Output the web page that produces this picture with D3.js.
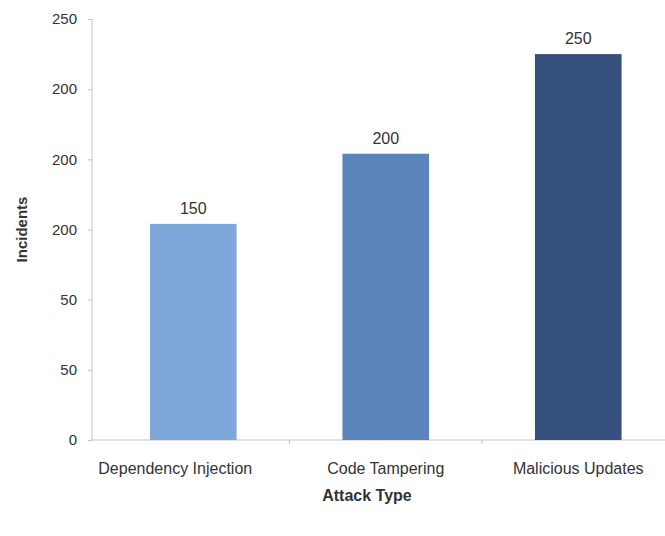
<!DOCTYPE html>
<html>
<head>
<meta charset="utf-8">
<script src="https://cdn.jsdelivr.net/npm/d3@7"></script>
<style>
  body { margin: 0; background: #fff; }
  text { font-family: "Liberation Sans", Arial, sans-serif; fill: #333; }
</style>
</head>
<body>
<svg id="chart" width="665" height="536"></svg>
<script>
// values (bar heights), printed labels kept as shown
let attackTypes = ["Dependency Injection", "Code Tampering", "Malicious Updates"]
let incidents = [154, 204, 275]
let barLabels = ["150", "200", "250"]
let tickValues = [0, 50, 100, 150, 200, 250, 300]
let tickLabels = ["0", "50", "50", "200", "200", "200", "250"]
let barColors = ["#7ca7d8", "#5b84ba", "#35507d"]

let svg = d3.select("#chart")
let margin = {top: 19, bottom: 96, left: 92}
let height = 536 - margin.bottom

let y = d3.scaleLinear().domain([0, 300]).range([height, margin.top])
let x = d3.scaleBand().domain(attackTypes).range([97, 674.5])
    .paddingInner(0.55).paddingOuter(0.275)

// y axis
let yAxis = svg.append("g")
    .attr("class", "yaxis")
    .attr("transform", `translate(${margin.left},0)`)
    .call(d3.axisLeft(y).tickValues(tickValues).tickSize(4).tickPadding(11)
        .tickFormat((d, i) => tickLabels[i]))
yAxis.select(".domain").attr("stroke", "#c4c4c4").attr("d", `M0,${y(300)}V${height}`)
yAxis.selectAll(".tick line").attr("stroke", "#c4c4c4")
yAxis.selectAll(".tick text").attr("font-size", 15).attr("fill", "#333")

// x axis line + ticks between categories
let xg = svg.append("g").attr("class", "xaxis")
xg.append("line")
    .attr("x1", margin.left).attr("x2", 665)
    .attr("y1", height).attr("y2", height)
    .attr("stroke", "#c4c4c4")
xg.selectAll(".sep")
    .data(attackTypes.slice(1))
    .join("line")
    .attr("class", "sep")
    .attr("x1", d => x(d) - x.step() * 0.275)
    .attr("x2", d => x(d) - x.step() * 0.275)
    .attr("y1", height).attr("y2", height + 4)
    .attr("stroke", "#c4c4c4")
// first label is pushed left a bit in the original so it doesn't hug the next one
xg.selectAll(".cat")
    .data(attackTypes)
    .join("text")
    .attr("class", "cat")
    .attr("x", (d, i) => x(d) + x.bandwidth() / 2 - (i === 0 ? 18 : 0))
    .attr("y", height + 34)
    .attr("text-anchor", "middle")
    .attr("font-size", 16)
    .text(d => d)

// bars
svg.selectAll(".bar")
    .data(attackTypes)
    .join("rect")
    .attr("class", "bar")
    .attr("x", d => x(d))
    .attr("width", x.bandwidth())
    .attr("y", (d, i) => y(incidents[i]))
    .attr("height", (d, i) => height - y(incidents[i]))
    .attr("fill", (d, i) => barColors[i])

svg.selectAll(".barlabel")
    .data(attackTypes)
    .join("text")
    .attr("class", "barlabel")
    .attr("x", d => x(d) + x.bandwidth() / 2)
    .attr("y", (d, i) => y(incidents[i]) - 10)
    .attr("text-anchor", "middle")
    .attr("font-size", 16)
    .text((d, i) => barLabels[i])

// axis titles
svg.append("text")
    .text("Attack Type")
    .attr("x", 367)
    .attr("y", height + 61)
    .attr("text-anchor", "middle")
    .attr("font-size", 16)
    .attr("font-weight", "bold")
    .attr("fill", "#222")

svg.append("text")
    .text("Incidents")
    .attr("transform", `translate(27,${(margin.top + height) / 2}) rotate(-90)`)
    .attr("text-anchor", "middle")
    .attr("font-size", 15)
    .attr("font-weight", "bold")
    .attr("fill", "#222")
</script>
</body>
</html>
